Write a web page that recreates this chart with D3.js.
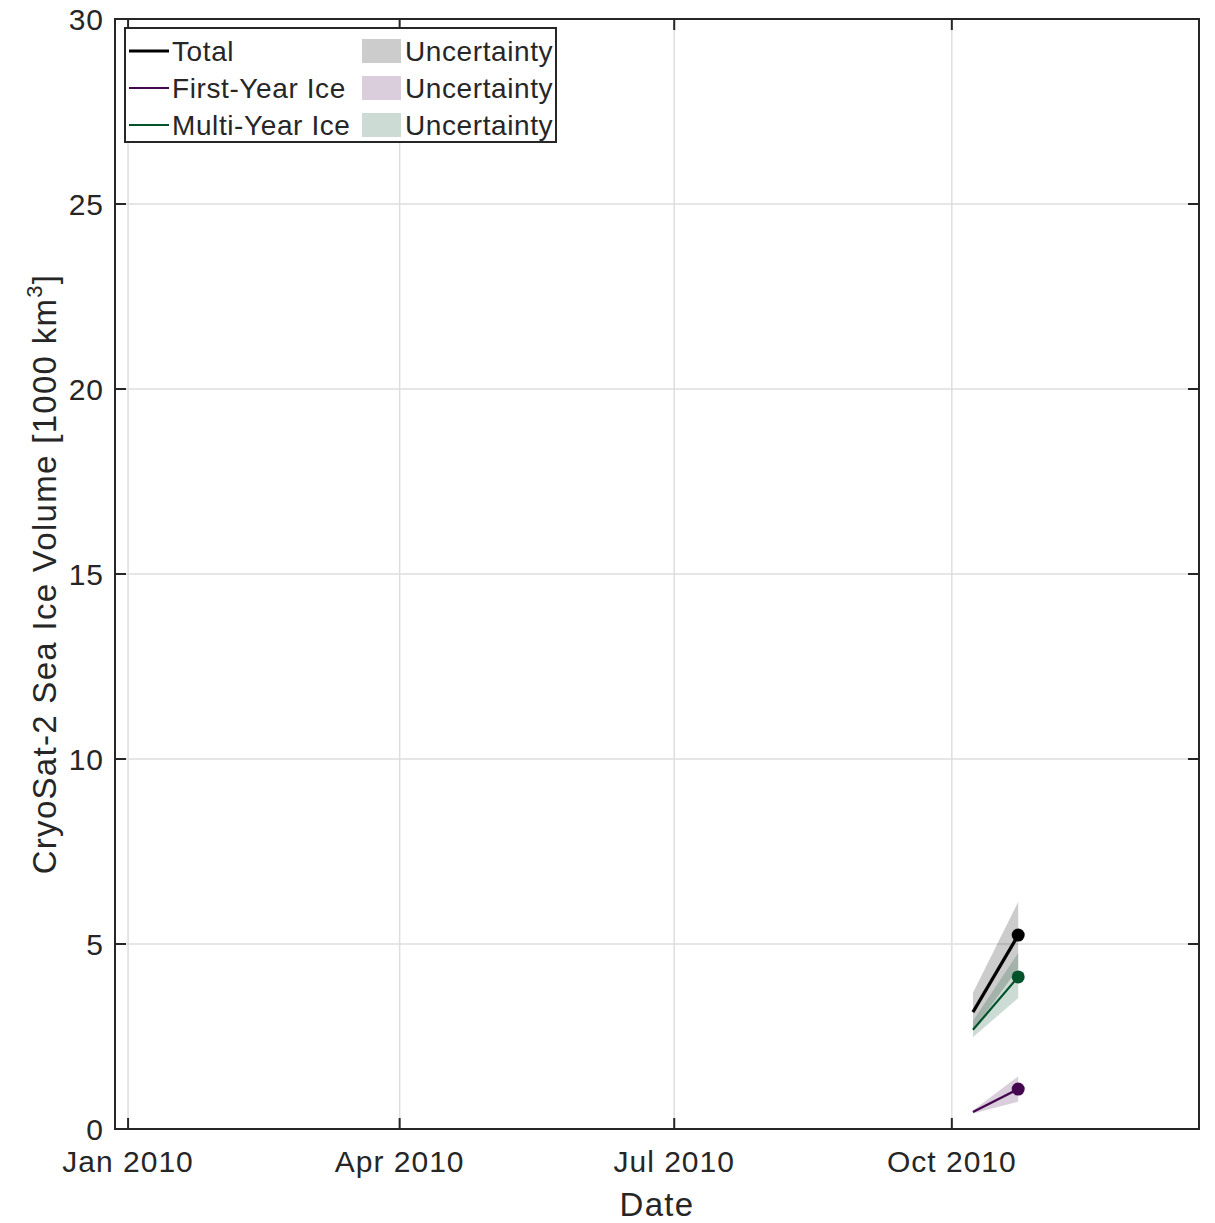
<!DOCTYPE html>
<html>
<head>
<meta charset="utf-8">
<script src="https://cdn.jsdelivr.net/npm/d3@7"></script>
<style>
  body { margin: 0; background: #fff; }
  text { font-family: "Liberation Sans", Arial, sans-serif; fill: #262626; }
</style>
</head>
<body>
<div id="chart"></div>
<script>
// CryoSat-2 sea ice volume, two samples in autumn 2010
const dates = ["2010-10-08", "2010-10-23"];
const totalVol = [3.16, 5.24];
const totalLo = [2.66, 4.34];
const totalHi = [3.68, 6.14];
const fyiVol = [0.46, 1.08];
const fyiLo = [0.42, 0.74];
const fyiHi = [0.50, 1.42];
const myiVol = [2.68, 4.11];
const myiLo = [2.48, 3.54];
const myiHi = [2.92, 4.76];

const xTickDates = ["2010-01-01", "2010-04-01", "2010-07-01", "2010-10-01"];
const xTickLabels = ["Jan 2010", "Apr 2010", "Jul 2010", "Oct 2010"];
const yTicks = [0, 5, 10, 15, 20, 25, 30];

const W = 1215, H = 1223;
const margin = { left: 115, right: 16, top: 19, bottom: 94 };
const parse = d3.timeParse("%Y-%m-%d");

const svg = d3.select("#chart").append("svg")
  .attr("width", W).attr("height", H);

const x = d3.scaleTime()
  .domain([new Date(2009, 11, 27, 16), new Date(2010, 11, 21, 22)])
  .range([margin.left, W - margin.right]);
const y = d3.scaleLinear()
  .domain([0, 30])
  .range([H - margin.bottom, margin.top]);

const x0 = margin.left, x1 = W - margin.right;
const y0 = H - margin.bottom, y1 = margin.top;

// grid
const grid = svg.append("g").attr("stroke", "#dedede").attr("stroke-width", 1.5);
xTickDates.forEach(d => {
  grid.append("line").attr("x1", x(parse(d))).attr("x2", x(parse(d)))
    .attr("y1", y0).attr("y2", y1);
});
yTicks.forEach(v => {
  grid.append("line").attr("x1", x0).attr("x2", x1)
    .attr("y1", y(v)).attr("y2", y(v));
});

// series
const series = [
  { name: "Total", color: "#000000", width: 3.2, v: totalVol, lo: totalLo, hi: totalHi },
  { name: "First-Year Ice", color: "#44064f", width: 2.2, v: fyiVol, lo: fyiLo, hi: fyiHi },
  { name: "Multi-Year Ice", color: "#00522a", width: 2.2, v: myiVol, lo: myiLo, hi: myiHi }
];

const area = d3.area()
  .x(d => x(d.date)).y0(d => y(d.lo)).y1(d => y(d.hi));
const line = d3.line().x(d => x(d.date)).y(d => y(d.v));

series.forEach(s => {
  s.pts = dates.map((d, i) => ({ date: parse(d), v: s.v[i], lo: s.lo[i], hi: s.hi[i] }));
  svg.append("path").datum(s.pts).attr("d", area)
    .attr("fill", s.color).attr("fill-opacity", 0.2);
});
series.forEach(s => {
  svg.append("path").datum(s.pts).attr("d", line)
    .attr("fill", "none").attr("stroke", s.color).attr("stroke-width", s.width);
  const last = s.pts[s.pts.length - 1];
  svg.append("circle").attr("cx", x(last.date)).attr("cy", y(last.v))
    .attr("r", 6.5).attr("fill", s.color);
});

// axes box + inner ticks
const ax = svg.append("g").attr("stroke", "#262626").attr("fill", "none");
ax.append("rect").attr("x", x0).attr("y", y1).attr("width", x1 - x0).attr("height", y0 - y1)
  .attr("stroke-width", 2);
const tl = 11;
yTicks.forEach(v => {
  ax.append("line").attr("x1", x0).attr("x2", x0 + tl).attr("y1", y(v)).attr("y2", y(v)).attr("stroke-width", 2);
  ax.append("line").attr("x1", x1).attr("x2", x1 - tl).attr("y1", y(v)).attr("y2", y(v)).attr("stroke-width", 2);
  svg.append("text").attr("x", x0 - 11).attr("y", y(v)).attr("dy", "0.35em")
    .attr("text-anchor", "end").attr("font-size", 30).attr("letter-spacing", 1).text(v);
});
xTickDates.forEach((d, i) => {
  const px = x(parse(d));
  ax.append("line").attr("x1", px).attr("x2", px).attr("y1", y0).attr("y2", y0 - tl).attr("stroke-width", 2);
  ax.append("line").attr("x1", px).attr("x2", px).attr("y1", y1).attr("y2", y1 + tl).attr("stroke-width", 2);
  svg.append("text").attr("x", px).attr("y", y0 + 43)
    .attr("text-anchor", "middle").attr("font-size", 30).attr("letter-spacing", 1).text(xTickLabels[i]);
});

// axis labels
svg.append("text").attr("x", (x0 + x1) / 2).attr("y", H - 7)
  .attr("text-anchor", "middle").attr("font-size", 33).attr("letter-spacing", 1.3).text("Date");
const yl = svg.append("text")
  .attr("transform", `translate(56,${(y0 + y1) / 2}) rotate(-90)`)
  .attr("text-anchor", "middle").attr("font-size", 33).attr("letter-spacing", 1.3);
yl.append("tspan").text("CryoSat-2 Sea Ice Volume [1000 km");
yl.append("tspan").attr("font-size", 22).attr("dy", -14).text("3");
yl.append("tspan").attr("dy", 14).text("]");

// legend
const lg = svg.append("g").attr("transform", "translate(125,28)");
lg.append("rect").attr("width", 431).attr("height", 114)
  .attr("fill", "#fff").attr("stroke", "#262626").attr("stroke-width", 2);
series.forEach((s, i) => {
  const cy = 23 + i * 37;
  lg.append("line").attr("x1", 4).attr("x2", 44).attr("y1", cy).attr("y2", cy)
    .attr("stroke", s.color).attr("stroke-width", s.width);
  lg.append("text").attr("x", 47).attr("y", cy).attr("dy", "0.36em")
    .attr("font-size", 28).attr("letter-spacing", 0.6).attr("fill", "#000").text(s.name);
  lg.append("rect").attr("x", 237).attr("y", cy - 12).attr("width", 39).attr("height", 24)
    .attr("fill", s.color).attr("fill-opacity", 0.2);
  lg.append("text").attr("x", 280).attr("y", cy).attr("dy", "0.36em")
    .attr("font-size", 28).attr("letter-spacing", 0.6).attr("fill", "#000").text("Uncertainty");
});
</script>
</body>
</html>
